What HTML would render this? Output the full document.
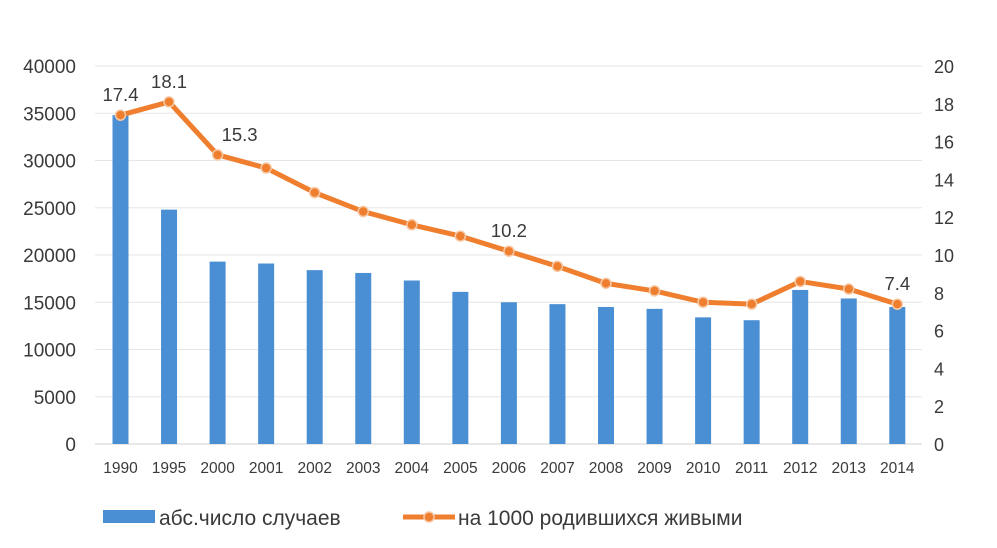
<!DOCTYPE html>
<html><head><meta charset="utf-8"><style>
body{margin:0;background:#fff;}
svg{display:block;font-family:"Liberation Sans",sans-serif;}
</style></head><body>
<svg width="997" height="548">
<g id="grid"></g><g id="bars"></g><g id="line"></g><g id="labels"></g>
<g>
<rect x="103" y="510" width="52" height="13" fill="#4a8fd4"/>
<text x="159" y="525" font-size="21" fill="#3a3a3a">абс.число случаев</text>
<line x1="403" y1="517" x2="455" y2="517" stroke="#ef7f2f" stroke-width="5"/>
<circle cx="429" cy="517" r="5" fill="#ef7f2f" stroke="#f6c9a6" stroke-width="1.5"/>
<text x="458" y="525" font-size="21" fill="#3a3a3a">на 1000 родившихся живыми</text>
</g>
</svg>
<script>
const categories=["1990","1995","2000","2001","2002","2003","2004","2005","2006","2007","2008","2009","2010","2011","2012","2013","2014"];
const cases=[34800,24800,19300,19100,18400,18100,17300,16100,15000,14800,14500,14300,13400,13100,16300,15400,14500];
const rate=[17.4,18.1,15.3,14.6,13.3,12.3,11.6,11.0,10.2,9.4,8.5,8.1,7.5,7.4,8.6,8.2,7.4];
const leftTicks=[0,5000,10000,15000,20000,25000,30000,35000,40000];
const rightTicks=[0,2,4,6,8,10,12,14,16,18,20];
const shownLabels={0:"17.4",1:"18.1",2:"15.3",8:"10.2",16:"7.4"};
const NS="http://www.w3.org/2000/svg";
const y0=444,yTop=66;
const yL=v=>y0-(v/40000)*(y0-yTop);
const yR=v=>y0-(v/20)*(y0-yTop);
const xC=i=>120.5+i*48.55;
function mk(t,a,p){const e=document.createElementNS(NS,t);for(const k in a)e.setAttribute(k,a[k]);p.appendChild(e);return e;}
const G=document.getElementById('grid'),B=document.getElementById('bars'),L=document.getElementById('line'),T=document.getElementById('labels');
leftTicks.forEach((v,i)=>{
 const l=mk('line',{x1:95,x2:922,y1:yL(v),y2:yL(v),stroke:i==0?'#d0d0d0':'#e6e6e6','stroke-width':1},G);
 
 
 const t=mk('text',{x:76,y:yL(v)+7,'text-anchor':'end','font-size':19,fill:'#3a3a3a'},T);t.textContent=v;
 
 
});
rightTicks.forEach(v=>{
 const t=mk('text',{x:934,y:yR(v)+7,'font-size':18,fill:'#3a3a3a'},T);t.textContent=v;
 
 
});
categories.forEach((c,i)=>{
 const r=mk('rect',{x:xC(i)-8,y:yL(cases[i]),width:16,height:y0-yL(cases[i]),fill:'#4a8fd4'},B);
 
 
 const t=mk('text',{x:xC(i),y:473,'text-anchor':'middle','font-size':15.5,fill:'#3a3a3a'},T);t.textContent=c;
 
 
});
const pl=mk('polyline',{points:rate.map((v,i)=>xC(i)+','+yR(v)).join(' '),fill:'none',stroke:'#ef7f2f','stroke-width':5,'stroke-linejoin':'round'},L);


rate.forEach((v,i)=>{
 const c=mk('circle',{cx:xC(i),cy:yR(v),r:5,fill:'#ef7f2f',stroke:'#f6c9a6','stroke-width':1.5},L);
 
 
 if(shownLabels[i]){const t=mk('text',{x:xC(i)+(i==2?22:0),y:yR(v)-14,'text-anchor':'middle','font-size':18.5,fill:'#3a3a3a'},T);t.textContent=shownLabels[i];
 
 }
});
</script>
</body></html>
